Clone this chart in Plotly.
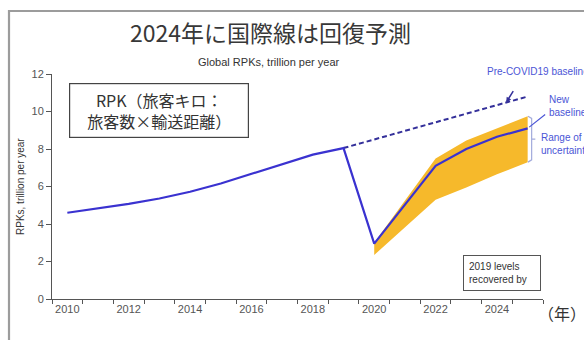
import plotly.graph_objects as go

# Global revenue passenger kilometres (trillion per year)
years = [2010, 2011, 2012, 2013, 2014, 2015, 2016, 2017, 2018, 2019, 2020, 2022, 2023, 2024, 2025]
rpk = [4.6, 4.83, 5.07, 5.36, 5.72, 6.16, 6.66, 7.2, 7.7, 8.05, 2.95, 7.1, 8.0, 8.65, 9.1]

# Pre-COVID trend continued from 2019
pre_years = [2019, 2025]
pre_rpk = [8.05, 10.8]

# Forecast uncertainty band
band_years = [2020, 2022, 2023, 2024, 2025]
band_upper = [3.0, 7.5, 8.45, 9.1, 9.75]
band_lower = [2.35, 5.3, 5.95, 6.65, 7.3]

x_labels = [2010, 2012, 2014, 2016, 2018, 2020, 2022, 2024]
y_ticks = [0, 2, 4, 6, 8, 10, 12]

BLUE = "#3a32d0"
NAVY = "#34309a"
YELLOW = "#f6b92b"
LABEL_BLUE = "#4b55d6"
AXIS = "#555555"
JP = "Noto Sans CJK JP"
LAT = "Liberation Sans, Arial, sans-serif"

W, H = 584, 340
L, R, T, B = 52, 41, 74, 41
PW, PH = W - L - R, H - T - B


def px(x):
    return (x - L) / PW


def py(y):
    return (H - B - y) / PH


fig = go.Figure()

fig.add_trace(go.Scatter(
    x=band_years + band_years[::-1],
    y=band_upper + band_lower[::-1],
    fill="toself", fillcolor=YELLOW, mode="lines",
    line=dict(width=0), hoverinfo="skip", showlegend=False,
))
fig.add_trace(go.Scatter(
    x=pre_years, y=pre_rpk, mode="lines",
    line=dict(color=NAVY, width=2, dash="5px,3px"), showlegend=False,
))
fig.add_trace(go.Scatter(
    x=years, y=rpk, mode="lines",
    line=dict(color=BLUE, width=2.2), showlegend=False,
))

annotations = [
    dict(text="2024年に国際線は回復予測", x=px(270), y=py(32), xref="paper", yref="paper",
         showarrow=False, font=dict(family=JP, size=23, color="#383838"),
         xanchor="center", yanchor="middle"),
    dict(text="Global RPKs, trillion per year", x=px(269), y=py(62), xref="paper", yref="paper",
         showarrow=False, font=dict(family=LAT, size=11, color="#333333"),
         xanchor="center", yanchor="middle"),
    dict(text="RPKs, trillion per year", x=px(20), y=py(187), xref="paper", yref="paper",
         showarrow=False, textangle=-90, font=dict(family=LAT, size=10, color="#333333"),
         xanchor="center", yanchor="middle"),
    dict(text="RPK（旅客キロ：<br>旅客数×輸送距離）", x=px(159), y=py(110), xref="paper", yref="paper",
         showarrow=False, font=dict(family=JP, size=16, color="#333333"),
         xanchor="center", yanchor="middle", align="center",
         bordercolor="#444444", borderwidth=1.2, borderpad=4, bgcolor="white", width=170),
    dict(text="Pre-COVID19 baseline", x=px(485), y=py(72), xref="paper", yref="paper",
         showarrow=False, font=dict(family=LAT, size=10, color=LABEL_BLUE),
         xanchor="left", yanchor="middle"),
    dict(text="New<br>baseline", x=px(547), y=py(106), xref="paper", yref="paper",
         showarrow=False, font=dict(family=LAT, size=10, color=LABEL_BLUE),
         xanchor="left", yanchor="middle", align="left"),
    dict(text="Range of<br>uncertainty", x=px(539), y=py(144), xref="paper", yref="paper",
         showarrow=False, font=dict(family=LAT, size=10, color=LABEL_BLUE),
         xanchor="left", yanchor="middle", align="left"),
    dict(text="2019 levels<br>recovered by", x=px(502), y=py(273), xref="paper", yref="paper",
         showarrow=False, font=dict(family=LAT, size=10, color="#333333"),
         xanchor="center", yanchor="middle", align="left",
         bordercolor="#555555", borderwidth=1, borderpad=5, bgcolor="white", width=66),
    dict(text="（年）", x=px(562), y=py(313), xref="paper", yref="paper",
         showarrow=False, font=dict(family=JP, size=16, color="#333333"),
         xanchor="center", yanchor="middle"),
]

# Pointer to the pre-COVID trend line
x_ptr = 2024.3
y_ptr = pre_rpk[0] + (pre_rpk[1] - pre_rpk[0]) * (x_ptr - pre_years[0]) / (pre_years[1] - pre_years[0])
annotations.append(dict(x=x_ptr, y=y_ptr, xref="x", yref="y", text="", showarrow=True,
                        ax=8, ay=-13, arrowhead=2, arrowsize=0.7, arrowwidth=1.5,
                        arrowcolor=NAVY, standoff=0))
# Pointer to the end of the new baseline
annotations.append(dict(x=years[-1], y=rpk[-1], xref="x", yref="y", text="", showarrow=True,
                        ax=19, ay=-15, arrowhead=0, arrowwidth=1.2, arrowcolor=LABEL_BLUE,
                        standoff=2))

fig.update_layout(annotations=annotations)

# Bracket marking the band spread at the final year
bx = band_years[-1] + 0.13
fig.add_shape(type="path", xref="x", yref="y",
              path=(f"M {bx - 0.12},{band_upper[-1]} L {bx},{band_upper[-1] - 0.12} "
                    f"L {bx},{band_lower[-1] + 0.12} L {bx - 0.12},{band_lower[-1]} "
                    f"M {bx},{(band_upper[-1] + band_lower[-1]) / 2} "
                    f"L {bx + 0.12},{(band_upper[-1] + band_lower[-1]) / 2}"),
              line=dict(color="#a3abdc", width=1.2))

# Outer frame
fig.add_shape(type="path", xref="paper", yref="paper",
              path=f"M {px(9)},{py(345)} L {px(9)},{py(11)} L {px(590)},{py(11)}",
              line=dict(color="#9c9c9c", width=2.2))

fig.update_layout(
    width=W, height=H,
    margin=dict(l=L, r=R, t=T, b=B),
    paper_bgcolor="white", plot_bgcolor="white",
    xaxis=dict(
        range=[2009.5, 2025.5], showgrid=False, zeroline=False,
        showline=True, linecolor=AXIS, linewidth=1,
        tickmode="array", tickvals=x_labels, ticktext=[str(v) for v in x_labels],
        ticks="", tickfont=dict(family=LAT, size=11, color=AXIS),
        minor=dict(tickmode="linear", tick0=2009.5, dtick=1, ticks="outside",
                   ticklen=4, tickcolor=AXIS, tickwidth=1, showgrid=False),
    ),
    yaxis=dict(
        range=[0, 12], showgrid=False, zeroline=False,
        showline=True, linecolor=AXIS, linewidth=1,
        tickmode="array", tickvals=y_ticks, ticks="outside", ticklen=5,
        tickcolor=AXIS, tickfont=dict(family=LAT, size=11, color=AXIS),
    ),
)

fig.write_html("out.html")
